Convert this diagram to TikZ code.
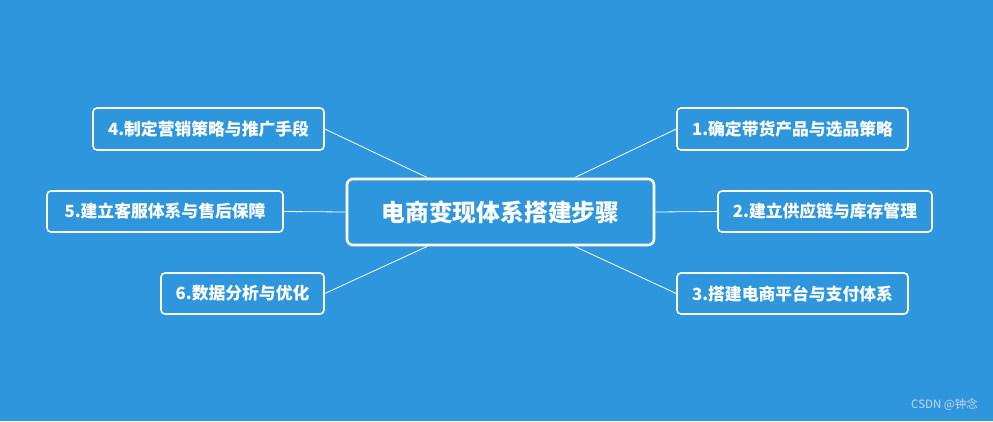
\documentclass[tikz,border=0pt]{standalone}
\usepackage{fontspec}
\newfontfamily\cjk{Noto Sans CJK SC}
\definecolor{bg}{RGB}{45,150,221}
\definecolor{wm}{RGB}{200,215,230}
\begin{document}
\begin{tikzpicture}[x=1pt,y=-1pt,
  leaf/.style={draw=white, line width=1.6pt, rounded corners=4pt, text=white,
    font=\cjk\bfseries\fontsize{16.8}{19}\selectfont, inner sep=0pt},
  rootbox/.style={draw=white, line width=2.6pt, rounded corners=6pt, text=white,
    font=\cjk\bfseries\fontsize{23.8}{28}\selectfont, inner sep=0pt,
    minimum width=307pt, minimum height=66pt},
  conn/.style={draw=white, line width=0.8pt}]
\fill[bg] (0,0) rectangle (993,421);
\useasboundingbox (0,0) rectangle (993,421);
\node[rootbox] (c) at (500.5,212) {电商变现体系搭建步骤};
\node[leaf, minimum width=231pt, minimum height=42pt] (n1) at (792.5,129) {1.确定带货产品与选品策略};
\node[leaf, minimum width=214pt, minimum height=41pt] (n2) at (825,211.5) {2.建立供应链与库存管理};
\node[leaf, minimum width=231pt, minimum height=41pt] (n3) at (792.5,293.5) {3.搭建电商平台与支付体系};
\node[leaf, minimum width=231pt, minimum height=42pt] (n4) at (208.5,129) {4.制定营销策略与推广手段};
\node[leaf, minimum width=236pt, minimum height=41pt] (n5) at (165,211.5) {5.建立客服体系与售后保障};
\node[leaf, minimum width=163pt, minimum height=41pt] (n6) at (242.5,293.5) {6.数据分析与优化};
\draw[conn] (n1.west) -- ([xshift=74pt]c.north);
\draw[conn] (n2.west) -- (c.east);
\draw[conn] (n3.west) -- ([xshift=74pt]c.south);
\draw[conn] (n4.east) -- ([xshift=-73pt]c.north);
\draw[conn] (n5.east) -- (c.west);
\draw[conn] (n6.east) -- ([xshift=-73pt]c.south);
\node[text=wm, font=\cjk\fontsize{11.5}{13}\selectfont, anchor=east, inner sep=0pt] (wmk) at (978,405) {CSDN @钟念};
\end{tikzpicture}
\end{document}
